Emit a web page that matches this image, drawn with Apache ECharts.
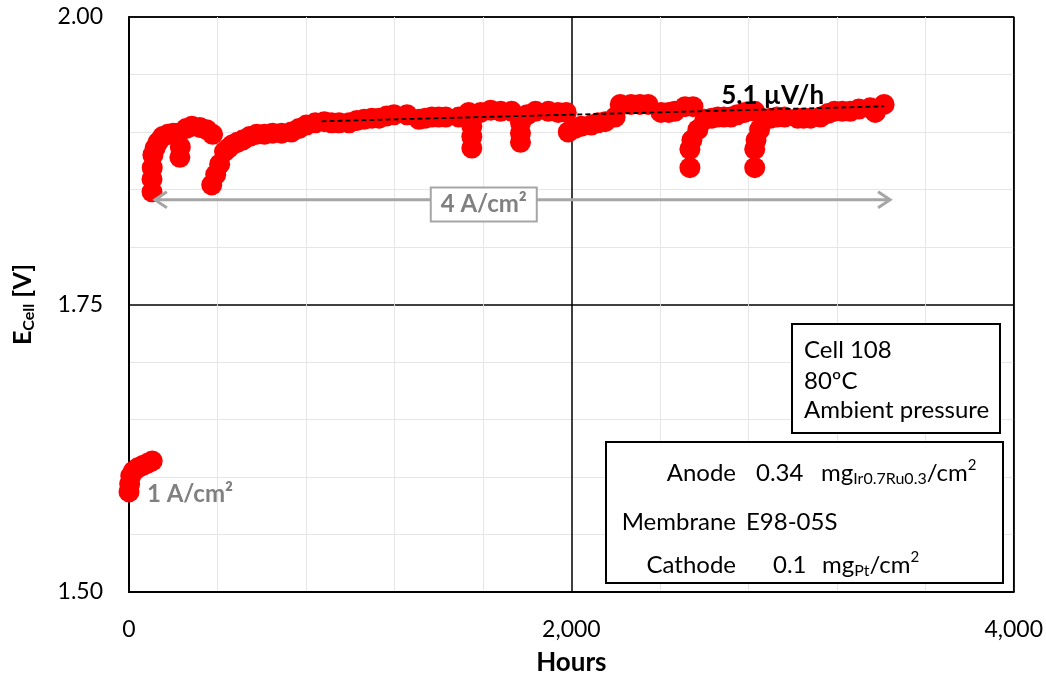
<!DOCTYPE html>
<html>
<head>
<meta charset="utf-8">
<script src="https://cdn.jsdelivr.net/npm/echarts@6/dist/echarts.min.js"></script>
<style>
  html, body { margin: 0; padding: 0; background: #fff; }
  #main { width: 1046px; height: 681px; }
</style>
</head>
<body>
<div id="main"></div>
<script>
// 4 A/cm2 run (hours, cell voltage)
const hours4 = [104, 104, 105, 108, 118, 131, 152, 176, 200, 221, 230, 232, 258, 284, 320, 351, 378,
  374, 392, 410, 432, 450, 468, 490, 514, 545, 577, 612, 649, 690, 734, 768, 802, 842, 883, 915, 950, 995, 1030, 1063, 1098, 1131,
  1165, 1198, 1257, 1311, 1340, 1369, 1400, 1432, 1491, 1536, 1550, 1550, 1550, 1590, 1635, 1680, 1730, 1770,
  1770, 1770, 1800, 1838, 1896, 1940, 1977, 1986, 2015, 2045, 2090, 2120, 2153, 2198, 2221, 2270, 2310, 2347,
  2405, 2440, 2468, 2514, 2550, 2572, 2545, 2536, 2536, 2604, 2635, 2662, 2690, 2721, 2750, 2784, 2829,
  2851, 2835, 2829, 2829, 2901, 2930, 2964, 3023, 3050, 3081, 3126, 3160, 3189, 3225, 3261, 3300, 3351, 3374, 3414];
const volts4 = [1.848, 1.859, 1.869, 1.880, 1.886, 1.891, 1.896, 1.898, 1.899, 1.899, 1.878, 1.887, 1.903, 1.905, 1.904, 1.902, 1.898,
  1.854, 1.863, 1.872, 1.883, 1.886, 1.889, 1.891, 1.893, 1.896, 1.898, 1.898, 1.899, 1.899, 1.900, 1.903, 1.906, 1.908, 1.909, 1.908, 1.908, 1.908, 1.910, 1.911, 1.912, 1.912,
  1.914, 1.915, 1.915, 1.911, 1.912, 1.913, 1.913, 1.913, 1.913, 1.917, 1.905, 1.896, 1.886, 1.917, 1.919, 1.918, 1.918, 1.908,
  1.899, 1.891, 1.915, 1.918, 1.918, 1.917, 1.917, 1.900, 1.903, 1.905, 1.906, 1.908, 1.909, 1.913, 1.924, 1.924, 1.924, 1.924,
  1.917, 1.917, 1.918, 1.922, 1.922, 1.902, 1.893, 1.885, 1.869, 1.911, 1.912, 1.913, 1.913, 1.913, 1.915, 1.917, 1.918,
  1.902, 1.893, 1.885, 1.869, 1.912, 1.913, 1.913, 1.912, 1.912, 1.912, 1.913, 1.916, 1.918, 1.918, 1.918, 1.920, 1.921, 1.917, 1.924];

// 1 A/cm2 run
const hours1 = [0, 3, 8, 20, 40, 62, 85, 105];
const volts1 = [1.587, 1.594, 1.601, 1.605, 1.608, 1.610, 1.612, 1.614];

// linear fit, 5.1 uV/h
const trendHours = [870, 3414];
const trendVolts = [1.9093, 1.9223];

// current-density arrow span
const arrowHours = [117, 3441];
const arrowVolt = 1.841;

const FONT = 'Lato';

const chart = echarts.init(document.getElementById('main'));

const option = {
  animation: false,
  textStyle: { fontFamily: FONT },
  grid: {
    left: 129, top: 17, width: 888, height: 576,
    show: true, borderColor: '#000', borderWidth: 1.5
  },
  xAxis: {
    type: 'value', min: 0, max: 4000, interval: 2000,
    name: 'Hours', nameLocation: 'middle', nameGap: 58,
    nameTextStyle: { fontSize: 26, fontWeight: 'bold', color: '#000', fontFamily: FONT },
    axisLine: { lineStyle: { color: '#000', width: 2 } },
    axisTick: { show: false },
    axisLabel: {
      margin: 26, fontSize: 23, color: '#000', fontFamily: FONT,
      formatter: v => v.toLocaleString('en-US')
    },
    splitLine: { lineStyle: { color: '#000', width: 1.5 } },
    minorTick: { show: false, splitNumber: 5 },
    minorSplitLine: { show: true, lineStyle: { color: '#e6e6e6', width: 1 } }
  },
  yAxis: {
    type: 'value', min: 1.5, max: 2.0, interval: 0.25,
    name: '{e|E}{s|Cell}{e| [V]}', nameLocation: 'middle', nameGap: 92,
    nameTextStyle: {
      color: '#000',
      rich: {
        e: { fontSize: 25, fontWeight: 'bold', fontFamily: FONT, color: '#000' },
        s: { fontSize: 16, fontWeight: 'bold', fontFamily: FONT, color: '#000', padding: [12, 0, 0, 0] }
      }
    },
    axisLine: { show: true, lineStyle: { color: '#000', width: 2 } },
    axisTick: { show: false },
    axisLabel: {
      margin: 26, fontSize: 23, color: '#000', fontFamily: FONT,
      formatter: v => v.toFixed(2)
    },
    splitLine: { lineStyle: { color: '#000', width: 1.5 } },
    minorTick: { show: false, splitNumber: 5 },
    minorSplitLine: { show: true, lineStyle: { color: '#e6e6e6', width: 1 } }
  },
  series: [
    {
      name: '1 A/cm2', type: 'scatter', symbol: 'circle', symbolSize: 21,
      itemStyle: { color: '#ff0000', opacity: 1 },
      data: hours1.map((h, i) => [h, volts1[i]])
    },
    {
      name: '4 A/cm2', type: 'scatter', symbol: 'circle', symbolSize: 21,
      itemStyle: { color: '#ff0000', opacity: 1 },
      data: hours4.map((h, i) => [h, volts4[i]])
    },
    {
      name: 'fit', type: 'line', symbol: 'none', z: 5,
      lineStyle: { color: '#000', width: 1.8, type: [5, 3] },
      data: trendHours.map((h, i) => [h, trendVolts[i]])
    }
  ]
};
chart.setOption(option);

// annotations anchored to data coordinates
const px = (h, v) => chart.convertToPixel({ gridIndex: 0 }, [h, v]);
const a0 = px(arrowHours[0], arrowVolt);
const a1 = px(arrowHours[1], arrowVolt);
const grayLine = { stroke: '#a6a6a6', lineWidth: 3, fill: null };
const boxMid = px(1604, 1.837);
const rateAt = px(2910, 1.932);
const oneAt = px(81, 1.585);

const F = '24px ' + FONT;
const sub = { fontSize: 16, fontFamily: FONT, color: '#000', padding: [12, 0, 0, 0] };
const sup = { fontSize: 15, fontFamily: FONT, color: '#000', padding: [0, 0, 15, 0] };
const norm = { fontSize: 24, fontFamily: FONT, color: '#000' };
const txt = (x, y, text, align) => ({
  type: 'text', z: 12, x, y,
  style: { text, font: F, fill: '#000', align: align || 'left', verticalAlign: 'middle' }
});

chart.setOption({
  graphic: [
    { type: 'line', z: 10, shape: { x1: a0[0], y1: a0[1], x2: a1[0], y2: a1[1] }, style: grayLine },
    { type: 'polyline', z: 10, shape: { points: [[a0[0] + 12, a0[1] - 8], [a0[0], a0[1]], [a0[0] + 12, a0[1] + 8]] }, style: grayLine },
    { type: 'polyline', z: 10, shape: { points: [[a1[0] - 12, a1[1] - 8], [a1[0], a1[1]], [a1[0] - 12, a1[1] + 8]] }, style: grayLine },
    {
      type: 'rect', z: 11, shape: { x: boxMid[0] - 53, y: boxMid[1] - 17, width: 106, height: 34 },
      style: { fill: '#fff', stroke: '#a6a6a6', lineWidth: 2 }
    },
    {
      type: 'text', z: 12, x: boxMid[0], y: boxMid[1],
      style: { text: '4 A/cm²', fontSize: 24, fontWeight: 'bold', fontFamily: FONT, fill: '#808080', align: 'center', verticalAlign: 'middle' }
    },
    {
      type: 'text', z: 12, x: oneAt[0], y: oneAt[1],
      style: { text: '1 A/cm²', fontSize: 24, fontWeight: 'bold', fontFamily: FONT, fill: '#808080', align: 'left', verticalAlign: 'middle' }
    },
    {
      type: 'text', z: 12, x: rateAt[0], y: rateAt[1],
      style: { text: '5.1 µV/h', fontSize: 26, fontWeight: 'bold', fontFamily: FONT, fill: '#000', align: 'center', verticalAlign: 'middle' }
    },
    // cell info box
    {
      type: 'rect', z: 11, shape: { x: 792, y: 324, width: 208, height: 109 },
      style: { fill: '#fff', stroke: '#000', lineWidth: 2 }
    },
    txt(804, 350, 'Cell 108'),
    txt(804, 381, '80ºC'),
    txt(804, 410, 'Ambient pressure'),
    // MEA box
    {
      type: 'rect', z: 11, shape: { x: 606, y: 442, width: 397, height: 141 },
      style: { fill: '#fff', stroke: '#000', lineWidth: 2 }
    },
    txt(736, 473, 'Anode', 'right'),
    txt(736, 522, 'Membrane', 'right'),
    txt(736, 565, 'Cathode', 'right'),
    txt(756, 473, '0.34'),
    {
      type: 'text', z: 12, x: 821, y: 473,
      style: { text: '{n|mg}{b|Ir0.7Ru0.3}{n|/cm}{p|2}', rich: { n: norm, b: sub, p: sup }, verticalAlign: 'middle' }
    },
    txt(746, 522, 'E98-05S'),
    txt(773, 565, '0.1'),
    {
      type: 'text', z: 12, x: 822, y: 565,
      style: { text: '{n|mg}{b|Pt}{n|/cm}{p|2}', rich: { n: norm, b: sub, p: sup }, verticalAlign: 'middle' }
    }
  ]
});
</script>
</body>
</html>
